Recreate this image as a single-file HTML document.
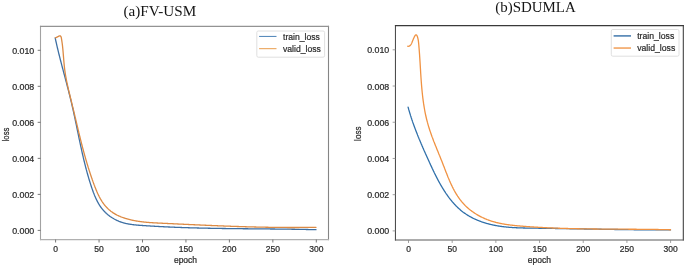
<!DOCTYPE html>
<html><head><meta charset="utf-8"><style>
html,body{margin:0;padding:0;background:#fff;}
body{width:685px;height:267px;overflow:hidden;}
svg{display:block;font-family:"Liberation Sans", sans-serif;will-change:transform;filter:blur(0.3px);}
.t{fill:#2a2a2a;stroke:#2a2a2a;stroke-width:0.22px;}
</style></head><body>
<svg width="685" height="267" viewBox="0 0 685 267">
<rect width="685" height="267" fill="#fff"/>
<polyline points="55.19,37.90 55.30,38.39 55.40,38.87 55.50,39.35 55.61,39.83 55.71,40.31 55.82,40.79 55.92,41.27 56.03,41.76 56.14,42.24 56.24,42.72 56.35,43.20 56.46,43.68 56.57,44.16 56.68,44.64 56.79,45.13 56.90,45.61 57.02,46.09 57.13,46.57 57.24,47.05 57.35,47.53 57.47,48.01 57.58,48.49 57.70,48.98 57.81,49.46 57.93,49.94 58.04,50.42 58.16,50.90 58.28,51.38 58.39,51.86 58.51,52.34 58.63,52.82 58.75,53.30 58.87,53.79 58.99,54.27 59.11,54.75 59.23,55.23 59.35,55.71 59.47,56.19 59.59,56.67 59.71,57.15 59.83,57.63 59.96,58.11 60.08,58.60 60.20,59.08 60.32,59.56 60.45,60.04 60.57,60.52 60.69,61.00 60.82,61.48 60.94,61.96 61.07,62.44 61.19,62.92 61.32,63.41 61.44,63.89 61.57,64.37 61.69,64.85 61.82,65.33 61.95,65.81 62.07,66.29 62.20,66.77 62.32,67.25 62.45,67.73 62.58,68.22 62.70,68.70 62.83,69.18 62.96,69.66 63.09,70.14 63.21,70.62 63.34,71.10 63.47,71.58 63.60,72.06 63.72,72.55 63.85,73.03 63.98,73.51 64.11,73.99 64.23,74.47 64.36,74.95 64.49,75.43 64.62,75.91 64.74,76.39 64.87,76.88 65.00,77.36 65.13,77.84 65.25,78.32 65.38,78.80 65.51,79.28 65.64,79.76 65.76,80.25 65.89,80.73 66.02,81.21 66.15,81.69 66.27,82.17 66.40,82.65 66.53,83.14 66.65,83.62 66.78,84.10 66.90,84.58 67.03,85.06 67.16,85.54 67.28,86.03 67.41,86.51 67.53,86.99 67.66,87.47 67.78,87.95 67.91,88.44 68.03,88.92 68.16,89.40 68.28,89.88 68.40,90.36 68.53,90.85 68.65,91.33 68.77,91.81 68.90,92.29 69.02,92.77 69.14,93.26 69.26,93.74 69.38,94.22 69.50,94.70 69.62,95.19 69.74,95.67 69.86,96.15 69.98,96.63 70.10,97.12 70.22,97.60 70.34,98.08 70.46,98.57 70.57,99.05 70.69,99.53 70.81,100.01 70.92,100.50 71.04,100.98 71.16,101.46 71.27,101.95 71.38,102.43 71.50,102.91 71.61,103.40 71.73,103.88 71.84,104.36 71.95,104.85 72.06,105.33 72.17,105.81 72.28,106.30 72.39,106.78 72.50,107.27 72.61,107.75 72.72,108.23 72.83,108.72 72.94,109.20 73.05,109.69 73.15,110.17 73.26,110.65 73.37,111.14 73.48,111.62 73.58,112.11 73.69,112.59 73.79,113.07 73.90,113.56 74.00,114.04 74.11,114.53 74.21,115.01 74.32,115.50 74.42,115.98 74.52,116.47 74.63,116.95 74.73,117.43 74.83,117.92 74.94,118.40 75.04,118.89 75.14,119.37 75.24,119.86 75.35,120.34 75.45,120.83 75.55,121.31 75.65,121.80 75.75,122.28 75.85,122.76 75.96,123.25 76.06,123.73 76.16,124.22 76.26,124.70 76.36,125.19 76.46,125.67 76.56,126.16 76.66,126.64 76.76,127.13 76.86,127.61 76.96,128.10 77.06,128.58 77.16,129.07 77.26,129.55 77.36,130.04 77.46,130.52 77.56,131.01 77.66,131.49 77.76,131.98 77.86,132.46 77.96,132.95 78.06,133.43 78.16,133.92 78.26,134.40 78.36,134.88 78.47,135.37 78.57,135.85 78.67,136.34 78.77,136.82 78.87,137.31 78.97,137.79 79.07,138.28 79.17,138.76 79.27,139.25 79.38,139.73 79.48,140.22 79.58,140.70 79.68,141.18 79.78,141.67 79.89,142.15 79.99,142.64 80.09,143.12 80.20,143.61 80.30,144.09 80.40,144.58 80.51,145.06 80.61,145.54 80.72,146.03 80.82,146.51 80.93,147.00 81.03,147.48 81.14,147.97 81.24,148.45 81.35,148.93 81.46,149.42 81.56,149.90 81.67,150.39 81.78,150.87 81.89,151.35 82.00,151.84 82.10,152.32 82.21,152.80 82.32,153.29 82.43,153.77 82.54,154.26 82.65,154.74 82.77,155.22 82.88,155.71 82.99,156.19 83.10,156.67 83.21,157.16 83.33,157.64 83.44,158.12 83.56,158.60 83.67,159.09 83.79,159.57 83.90,160.05 84.02,160.54 84.14,161.02 84.25,161.50 84.37,161.98 84.49,162.47 84.61,162.95 84.73,163.43 84.85,163.91 84.97,164.40 85.09,164.88 85.22,165.36 85.34,165.84 85.46,166.32 85.59,166.81 85.71,167.29 85.84,167.77 85.96,168.25 86.09,168.73 86.22,169.21 86.34,169.70 86.47,170.18 86.60,170.66 86.73,171.14 86.86,171.62 87.00,172.10 87.13,172.58 87.26,173.06 87.39,173.54 87.53,174.03 87.66,174.51 87.80,174.99 87.94,175.47 88.08,175.95 88.21,176.43 88.35,176.91 88.49,177.39 88.63,177.87 88.78,178.35 88.92,178.83 89.06,179.31 89.21,179.79 89.35,180.27 89.50,180.75 89.65,181.22 89.79,181.70 89.94,182.18 90.09,182.66 90.24,183.14 90.39,183.62 90.55,184.10 90.70,184.58 90.85,185.05 91.01,185.53 91.17,186.01 91.32,186.49 91.48,186.97 91.64,187.44 91.80,187.92 91.97,188.40 92.13,188.87 92.30,189.35 92.46,189.82 92.63,190.30 92.80,190.77 92.97,191.24 93.15,191.71 93.32,192.19 93.50,192.66 93.68,193.13 93.86,193.59 94.05,194.06 94.23,194.53 94.42,194.99 94.61,195.46 94.81,195.92 95.00,196.38 95.20,196.84 95.40,197.30 95.60,197.76 95.81,198.22 96.02,198.67 96.23,199.13 96.44,199.58 96.66,200.03 96.88,200.47 97.10,200.92 97.33,201.36 97.56,201.80 97.79,202.24 98.03,202.68 98.27,203.11 98.52,203.54 98.77,203.97 99.02,204.39 99.28,204.81 99.54,205.23 99.80,205.64 100.07,206.05 100.35,206.46 100.63,206.86 100.91,207.26 101.20,207.65 101.49,208.04 101.79,208.43 102.09,208.81 102.40,209.19 102.71,209.56 103.02,209.93 103.34,210.30 103.66,210.66 103.99,211.02 104.32,211.37 104.66,211.72 105.00,212.07 105.34,212.41 105.69,212.74 106.04,213.08 106.39,213.41 106.75,213.73 107.11,214.05 107.48,214.36 107.85,214.67 108.22,214.98 108.60,215.28 108.98,215.58 109.37,215.87 109.75,216.16 110.14,216.45 110.54,216.73 110.94,217.00 111.34,217.27 111.74,217.54 112.15,217.80 112.56,218.06 112.97,218.31 113.39,218.56 113.81,218.80 114.23,219.04 114.66,219.27 115.09,219.50 115.52,219.72 115.96,219.94 116.39,220.16 116.83,220.36 117.28,220.57 117.72,220.77 118.17,220.96 118.62,221.15 119.07,221.34 119.53,221.52 119.99,221.69 120.45,221.86 120.91,222.03 121.38,222.19 121.84,222.34 122.31,222.49 122.79,222.63 123.26,222.77 123.74,222.91 124.21,223.04 124.69,223.16 125.18,223.28 125.66,223.40 126.14,223.51 126.63,223.62 127.12,223.72 127.61,223.82 128.10,223.91 128.60,224.01 129.09,224.09 129.59,224.18 130.08,224.26 130.58,224.34 131.08,224.41 131.58,224.48 132.08,224.55 132.58,224.62 133.08,224.68 133.59,224.74 134.09,224.80 134.60,224.86 135.10,224.91 135.61,224.96 136.11,225.01 136.62,225.06 137.13,225.10 137.63,225.15 138.14,225.19 138.65,225.23 139.15,225.27 139.66,225.31 140.17,225.35 140.68,225.38 141.18,225.42 141.69,225.45 142.20,225.49 142.70,225.52 143.21,225.55 143.71,225.59 144.21,225.62 144.72,225.65 145.22,225.68 145.72,225.72 146.22,225.75 146.72,225.78 147.22,225.81 147.72,225.84 148.22,225.87 148.72,225.90 149.22,225.94 149.72,225.97 150.22,226.00 150.71,226.03 151.21,226.06 151.71,226.09 152.20,226.12 152.70,226.15 153.19,226.17 153.69,226.20 154.18,226.23 154.68,226.26 155.17,226.29 155.67,226.32 156.16,226.35 156.66,226.37 157.15,226.40 157.64,226.43 158.14,226.46 158.63,226.48 159.12,226.51 159.62,226.54 160.11,226.56 160.60,226.59 161.09,226.61 161.59,226.64 162.08,226.67 162.57,226.69 163.07,226.72 163.56,226.74 164.05,226.77 164.55,226.79 165.04,226.81 165.53,226.84 166.03,226.86 166.52,226.89 167.01,226.91 167.51,226.93 168.00,226.95 168.50,226.98 168.99,227.00 169.48,227.02 169.98,227.04 170.47,227.07 170.96,227.09 171.46,227.11 171.95,227.13 172.45,227.15 172.94,227.17 173.44,227.19 173.93,227.21 174.42,227.23 174.92,227.26 175.41,227.28 175.91,227.29 176.40,227.31 176.90,227.33 177.39,227.35 177.89,227.37 178.38,227.39 178.88,227.41 179.37,227.43 179.87,227.45 180.36,227.46 180.86,227.48 181.35,227.50 181.85,227.52 182.34,227.54 182.84,227.55 183.33,227.57 183.83,227.59 184.32,227.60 184.82,227.62 185.31,227.64 185.81,227.65 186.30,227.67 186.80,227.69 187.29,227.70 187.79,227.72 188.29,227.73 188.78,227.75 189.28,227.76 189.77,227.78 190.27,227.79 190.76,227.81 191.26,227.82 191.76,227.84 192.25,227.85 192.75,227.87 193.24,227.88 193.74,227.89 194.24,227.91 194.73,227.92 195.23,227.93 195.72,227.95 196.22,227.96 196.72,227.97 197.21,227.99 197.71,228.00 198.21,228.01 198.70,228.02 199.20,228.04 199.69,228.05 200.19,228.06 200.69,228.07 201.18,228.08 201.68,228.10 202.18,228.11 202.67,228.12 203.17,228.13 203.67,228.14 204.16,228.15 204.66,228.16 205.16,228.17 205.65,228.18 206.15,228.19 206.65,228.20 207.15,228.21 207.64,228.22 208.14,228.24 208.64,228.24 209.13,228.25 209.63,228.26 210.13,228.27 210.62,228.28 211.12,228.29 211.62,228.30 212.12,228.31 212.61,228.32 213.11,228.33 213.61,228.34 214.10,228.35 214.60,228.36 215.10,228.36 215.60,228.37 216.09,228.38 216.59,228.39 217.09,228.40 217.59,228.41 218.08,228.41 218.58,228.42 219.08,228.43 219.58,228.44 220.07,228.45 220.57,228.45 221.07,228.46 221.57,228.47 222.06,228.48 222.56,228.48 223.06,228.49 223.56,228.50 224.05,228.50 224.55,228.51 225.05,228.52 225.55,228.52 226.04,228.53 226.54,228.54 227.04,228.54 227.54,228.55 228.03,228.56 228.53,228.56 229.03,228.57 229.53,228.58 230.03,228.58 230.52,228.59 231.02,228.59 231.52,228.60 232.02,228.61 232.51,228.61 233.01,228.62 233.51,228.62 234.01,228.63 234.51,228.64 235.00,228.64 235.50,228.65 236.00,228.65 236.50,228.66 237.00,228.66 237.49,228.67 237.99,228.67 238.49,228.68 238.99,228.68 239.48,228.69 239.98,228.69 240.48,228.70 240.98,228.71 241.48,228.71 241.97,228.72 242.47,228.72 242.97,228.73 243.47,228.73 243.97,228.73 244.46,228.74 244.96,228.74 245.46,228.75 245.96,228.75 246.46,228.76 246.95,228.76 247.45,228.77 247.95,228.77 248.45,228.78 248.95,228.78 249.44,228.79 249.94,228.79 250.44,228.80 250.94,228.80 251.43,228.81 251.93,228.81 252.43,228.81 252.93,228.82 253.43,228.82 253.92,228.83 254.42,228.83 254.92,228.84 255.42,228.84 255.92,228.85 256.41,228.85 256.91,228.85 257.41,228.86 257.91,228.86 258.40,228.87 258.90,228.87 259.40,228.88 259.90,228.88 260.40,228.89 260.89,228.89 261.39,228.89 261.89,228.90 262.39,228.90 262.88,228.91 263.38,228.91 263.88,228.92 264.38,228.92 264.88,228.93 265.37,228.93 265.87,228.94 266.37,228.94 266.87,228.95 267.36,228.95 267.86,228.95 268.36,228.96 268.86,228.96 269.35,228.97 269.85,228.97 270.35,228.98 270.85,228.98 271.34,228.99 271.84,228.99 272.34,229.00 272.84,229.00 273.33,229.01 273.83,229.01 274.33,229.02 274.83,229.02 275.32,229.03 275.82,229.03 276.32,229.04 276.81,229.04 277.31,229.05 277.81,229.06 278.31,229.06 278.80,229.07 279.30,229.07 279.80,229.08 280.30,229.08 280.79,229.09 281.29,229.09 281.79,229.10 282.28,229.11 282.78,229.11 283.28,229.12 283.77,229.12 284.27,229.13 284.77,229.14 285.26,229.14 285.76,229.15 286.26,229.16 286.75,229.16 287.25,229.17 287.75,229.17 288.24,229.18 288.74,229.19 289.24,229.19 289.73,229.20 290.23,229.21 290.73,229.22 291.22,229.22 291.72,229.23 292.22,229.24 292.71,229.24 293.21,229.25 293.71,229.26 294.20,229.27 294.70,229.27 295.20,229.28 295.69,229.29 296.19,229.30 296.68,229.31 297.18,229.31 297.68,229.32 298.17,229.33 298.67,229.34 299.16,229.35 299.66,229.36 300.16,229.36 300.65,229.37 301.15,229.38 301.64,229.39 302.14,229.40 302.63,229.41 303.13,229.42 303.63,229.43 304.12,229.44 304.62,229.45 305.11,229.46 305.61,229.47 306.10,229.48 306.60,229.49 307.09,229.50 307.59,229.51 308.08,229.52 308.58,229.53 309.07,229.54 309.57,229.55 310.06,229.56 310.56,229.57 311.05,229.58 311.55,229.59 312.04,229.60 312.54,229.62 313.03,229.63 313.53,229.64 314.02,229.65 314.52,229.66 315.01,229.68 315.51,229.69 316.00,229.70" fill="none" stroke="#3d6fa3" stroke-width="1.3" stroke-linejoin="round" stroke-linecap="round"/>
<polyline points="55.50,37.80 57.50,36.80 59.40,35.80 60.40,35.90 61.20,37.20 61.29,37.68 61.38,38.16 61.46,38.65 61.55,39.13 61.63,39.61 61.71,40.10 61.79,40.58 61.86,41.07 61.93,41.55 62.00,42.04 62.07,42.52 62.14,43.01 62.21,43.49 62.27,43.98 62.33,44.46 62.39,44.95 62.45,45.43 62.50,45.92 62.56,46.40 62.61,46.89 62.66,47.38 62.71,47.86 62.76,48.35 62.81,48.84 62.86,49.32 62.91,49.81 62.95,50.30 62.99,50.78 63.04,51.27 63.08,51.76 63.12,52.24 63.16,52.73 63.21,53.22 63.25,53.70 63.29,54.19 63.32,54.68 63.36,55.17 63.40,55.65 63.44,56.14 63.48,56.63 63.52,57.11 63.56,57.60 63.60,58.09 63.64,58.57 63.68,59.06 63.71,59.55 63.75,60.04 63.79,60.52 63.84,61.01 63.88,61.50 63.92,61.98 63.96,62.47 64.01,62.95 64.05,63.44 64.10,63.93 64.14,64.41 64.19,64.90 64.24,65.38 64.29,65.87 64.34,66.35 64.39,66.84 64.44,67.33 64.50,67.81 64.55,68.29 64.61,68.78 64.67,69.26 64.73,69.75 64.80,70.23 64.86,70.72 64.93,71.20 65.00,71.68 65.07,72.17 65.14,72.65 65.21,73.13 65.29,73.62 65.36,74.10 65.44,74.58 65.52,75.06 65.60,75.54 65.69,76.03 65.77,76.51 65.86,76.99 65.94,77.47 66.03,77.95 66.12,78.43 66.21,78.91 66.30,79.39 66.40,79.87 66.49,80.36 66.59,80.84 66.68,81.32 66.78,81.80 66.88,82.28 66.98,82.76 67.08,83.23 67.18,83.71 67.29,84.19 67.39,84.67 67.49,85.15 67.60,85.63 67.71,86.11 67.81,86.59 67.92,87.07 68.03,87.54 68.14,88.02 68.25,88.50 68.36,88.98 68.47,89.46 68.58,89.94 68.70,90.41 68.81,90.89 68.92,91.37 69.04,91.85 69.15,92.32 69.27,92.80 69.38,93.28 69.50,93.76 69.61,94.23 69.73,94.71 69.85,95.19 69.96,95.66 70.08,96.14 70.20,96.62 70.31,97.09 70.43,97.57 70.55,98.05 70.67,98.52 70.78,99.00 70.90,99.48 71.02,99.95 71.13,100.43 71.25,100.91 71.37,101.38 71.49,101.86 71.60,102.33 71.72,102.81 71.84,103.29 71.95,103.76 72.07,104.24 72.18,104.71 72.30,105.19 72.41,105.67 72.53,106.14 72.64,106.62 72.76,107.09 72.87,107.57 72.99,108.04 73.10,108.52 73.22,109.00 73.33,109.47 73.44,109.95 73.56,110.42 73.67,110.90 73.78,111.37 73.90,111.85 74.01,112.32 74.12,112.80 74.24,113.27 74.35,113.75 74.46,114.22 74.58,114.70 74.69,115.18 74.80,115.65 74.91,116.13 75.03,116.60 75.14,117.07 75.25,117.55 75.36,118.02 75.48,118.50 75.59,118.97 75.70,119.45 75.81,119.92 75.93,120.40 76.04,120.87 76.15,121.35 76.26,121.82 76.37,122.30 76.49,122.77 76.60,123.24 76.71,123.72 76.82,124.19 76.94,124.67 77.05,125.14 77.16,125.62 77.28,126.09 77.39,126.56 77.50,127.04 77.61,127.51 77.73,127.98 77.84,128.46 77.95,128.93 78.07,129.41 78.18,129.88 78.30,130.35 78.41,130.83 78.52,131.30 78.64,131.77 78.75,132.25 78.87,132.72 78.98,133.19 79.10,133.67 79.21,134.14 79.33,134.61 79.44,135.09 79.56,135.56 79.68,136.03 79.79,136.50 79.91,136.98 80.03,137.45 80.14,137.92 80.26,138.40 80.38,138.87 80.50,139.34 80.61,139.81 80.73,140.29 80.85,140.76 80.97,141.23 81.09,141.70 81.21,142.17 81.33,142.65 81.45,143.12 81.57,143.59 81.69,144.06 81.81,144.53 81.93,145.01 82.05,145.48 82.18,145.95 82.30,146.42 82.42,146.89 82.54,147.36 82.67,147.84 82.79,148.31 82.92,148.78 83.04,149.25 83.17,149.72 83.29,150.19 83.42,150.66 83.54,151.13 83.67,151.61 83.80,152.08 83.93,152.55 84.05,153.02 84.18,153.49 84.31,153.96 84.44,154.43 84.57,154.90 84.70,155.37 84.83,155.84 84.96,156.31 85.10,156.78 85.23,157.25 85.36,157.72 85.50,158.19 85.63,158.66 85.76,159.13 85.90,159.60 86.04,160.07 86.17,160.54 86.31,161.01 86.45,161.48 86.58,161.95 86.72,162.42 86.86,162.89 87.00,163.36 87.14,163.83 87.28,164.30 87.42,164.76 87.57,165.23 87.71,165.70 87.85,166.17 88.00,166.64 88.14,167.11 88.29,167.58 88.43,168.05 88.58,168.51 88.73,168.98 88.88,169.45 89.02,169.92 89.17,170.39 89.32,170.86 89.48,171.32 89.63,171.79 89.78,172.26 89.93,172.73 90.09,173.20 90.24,173.66 90.40,174.13 90.55,174.60 90.71,175.07 90.87,175.53 91.02,176.00 91.18,176.47 91.34,176.93 91.50,177.40 91.66,177.87 91.83,178.33 91.99,178.80 92.15,179.27 92.32,179.73 92.48,180.20 92.65,180.67 92.82,181.13 92.99,181.60 93.15,182.07 93.32,182.53 93.49,183.00 93.67,183.46 93.84,183.93 94.01,184.40 94.19,184.86 94.36,185.33 94.54,185.79 94.71,186.26 94.89,186.72 95.07,187.19 95.25,187.65 95.44,188.11 95.62,188.58 95.80,189.04 95.99,189.50 96.18,189.96 96.37,190.42 96.56,190.88 96.76,191.33 96.95,191.79 97.15,192.24 97.35,192.70 97.55,193.15 97.76,193.60 97.96,194.05 98.17,194.49 98.39,194.94 98.60,195.38 98.82,195.82 99.04,196.26 99.26,196.70 99.49,197.13 99.72,197.56 99.95,197.99 100.18,198.42 100.42,198.84 100.66,199.26 100.91,199.68 101.16,200.10 101.41,200.51 101.67,200.92 101.93,201.33 102.19,201.74 102.46,202.14 102.73,202.54 103.00,202.93 103.28,203.32 103.56,203.71 103.85,204.09 104.14,204.48 104.44,204.85 104.74,205.22 105.05,205.59 105.35,205.96 105.67,206.32 105.99,206.68 106.31,207.03 106.64,207.38 106.97,207.72 107.30,208.06 107.64,208.40 107.99,208.73 108.33,209.06 108.69,209.38 109.04,209.70 109.40,210.01 109.77,210.32 110.14,210.62 110.51,210.92 110.88,211.22 111.26,211.51 111.65,211.79 112.04,212.07 112.43,212.35 112.82,212.62 113.22,212.88 113.62,213.14 114.03,213.40 114.44,213.65 114.85,213.89 115.27,214.13 115.69,214.36 116.11,214.59 116.54,214.82 116.96,215.04 117.40,215.25 117.83,215.46 118.27,215.67 118.71,215.87 119.15,216.07 119.59,216.26 120.04,216.45 120.48,216.64 120.93,216.82 121.39,216.99 121.84,217.17 122.29,217.34 122.75,217.50 123.21,217.67 123.67,217.83 124.13,217.98 124.59,218.13 125.05,218.28 125.52,218.43 125.98,218.57 126.45,218.71 126.91,218.85 127.38,218.98 127.85,219.11 128.32,219.24 128.79,219.36 129.26,219.48 129.73,219.60 130.20,219.72 130.67,219.83 131.15,219.94 131.62,220.05 132.10,220.15 132.57,220.26 133.05,220.36 133.53,220.45 134.01,220.55 134.49,220.64 134.97,220.73 135.45,220.82 135.93,220.90 136.41,220.99 136.89,221.07 137.37,221.15 137.86,221.22 138.34,221.30 138.83,221.37 139.31,221.44 139.80,221.51 140.28,221.58 140.77,221.64 141.26,221.70 141.74,221.77 142.23,221.82 142.72,221.88 143.21,221.94 143.70,221.99 144.19,222.05 144.68,222.10 145.17,222.15 145.66,222.19 146.15,222.24 146.64,222.29 147.13,222.33 147.62,222.37 148.12,222.41 148.61,222.45 149.10,222.49 149.60,222.53 150.09,222.57 150.58,222.60 151.08,222.64 151.57,222.67 152.06,222.71 152.56,222.74 153.05,222.77 153.55,222.80 154.04,222.83 154.54,222.86 155.03,222.89 155.53,222.91 156.02,222.94 156.52,222.97 157.01,222.99 157.51,223.02 158.00,223.04 158.50,223.07 158.99,223.09 159.49,223.12 159.98,223.14 160.48,223.17 160.97,223.19 161.47,223.21 161.96,223.24 162.46,223.26 162.95,223.28 163.44,223.31 163.94,223.33 164.43,223.35 164.93,223.38 165.42,223.40 165.91,223.42 166.41,223.45 166.90,223.47 167.39,223.49 167.89,223.52 168.38,223.54 168.87,223.56 169.36,223.58 169.86,223.61 170.35,223.63 170.84,223.65 171.33,223.68 171.82,223.70 172.32,223.72 172.81,223.75 173.30,223.77 173.79,223.79 174.28,223.82 174.77,223.84 175.27,223.86 175.76,223.89 176.25,223.91 176.74,223.93 177.23,223.96 177.72,223.98 178.21,224.00 178.70,224.03 179.19,224.05 179.68,224.07 180.17,224.09 180.66,224.12 181.15,224.14 181.64,224.16 182.13,224.19 182.62,224.21 183.11,224.23 183.60,224.26 184.09,224.28 184.58,224.30 185.06,224.32 185.55,224.35 186.04,224.37 186.53,224.39 187.02,224.42 187.51,224.44 188.00,224.46 188.49,224.48 188.97,224.51 189.46,224.53 189.95,224.55 190.44,224.57 190.93,224.60 191.41,224.62 191.90,224.64 192.39,224.66 192.88,224.69 193.36,224.71 193.85,224.73 194.34,224.75 194.83,224.77 195.31,224.80 195.80,224.82 196.29,224.84 196.77,224.86 197.26,224.88 197.75,224.91 198.24,224.93 198.72,224.95 199.21,224.97 199.70,224.99 200.18,225.02 200.67,225.04 201.15,225.06 201.64,225.08 202.13,225.10 202.61,225.12 203.10,225.14 203.59,225.17 204.07,225.19 204.56,225.21 205.04,225.23 205.53,225.25 206.02,225.27 206.50,225.29 206.99,225.31 207.47,225.33 207.96,225.36 208.44,225.38 208.93,225.40 209.42,225.42 209.90,225.44 210.39,225.46 210.87,225.48 211.36,225.50 211.84,225.52 212.33,225.54 212.81,225.56 213.30,225.58 213.78,225.60 214.27,225.62 214.75,225.64 215.24,225.66 215.72,225.68 216.21,225.70 216.69,225.72 217.18,225.74 217.66,225.76 218.15,225.78 218.63,225.80 219.12,225.82 219.60,225.84 220.09,225.86 220.57,225.88 221.06,225.89 221.54,225.91 222.03,225.93 222.51,225.95 223.00,225.97 223.48,225.99 223.97,226.01 224.45,226.03 224.94,226.04 225.42,226.06 225.90,226.08 226.39,226.10 226.87,226.12 227.36,226.14 227.84,226.15 228.33,226.17 228.81,226.19 229.30,226.21 229.78,226.22 230.27,226.24 230.75,226.26 231.24,226.28 231.72,226.29 232.20,226.31 232.69,226.33 233.17,226.34 233.66,226.36 234.14,226.38 234.63,226.39 235.11,226.41 235.60,226.43 236.08,226.44 236.57,226.46 237.05,226.48 237.54,226.49 238.02,226.51 238.51,226.52 238.99,226.54 239.47,226.56 239.96,226.57 240.44,226.59 240.93,226.60 241.41,226.62 241.90,226.63 242.38,226.65 242.87,226.66 243.35,226.68 243.84,226.69 244.32,226.71 244.81,226.72 245.29,226.73 245.78,226.75 246.26,226.76 246.75,226.78 247.24,226.79 247.72,226.80 248.21,226.82 248.69,226.83 249.18,226.85 249.66,226.86 250.15,226.87 250.63,226.88 251.12,226.90 251.60,226.91 252.09,226.92 252.58,226.94 253.06,226.95 253.55,226.96 254.03,226.97 254.52,226.98 255.01,227.00 255.49,227.01 255.98,227.02 256.46,227.03 256.95,227.04 257.44,227.05 257.92,227.07 258.41,227.08 258.89,227.09 259.38,227.10 259.87,227.11 260.35,227.12 260.84,227.13 261.33,227.14 261.81,227.15 262.30,227.16 262.79,227.17 263.28,227.18 263.76,227.19 264.25,227.20 264.74,227.21 265.22,227.22 265.71,227.23 266.20,227.24 266.69,227.24 267.17,227.25 267.66,227.26 268.15,227.27 268.64,227.28 269.13,227.29 269.61,227.29 270.10,227.30 270.59,227.31 271.08,227.32 271.57,227.32 272.06,227.33 272.54,227.34 273.03,227.35 273.52,227.35 274.01,227.36 274.50,227.37 274.99,227.37 275.48,227.38 275.97,227.38 276.46,227.39 276.94,227.40 277.43,227.40 277.92,227.41 278.41,227.41 278.90,227.42 279.39,227.42 279.88,227.43 280.37,227.43 280.86,227.43 281.35,227.44 281.84,227.44 282.33,227.45 282.83,227.45 283.32,227.45 283.81,227.46 284.30,227.46 284.79,227.46 285.28,227.47 285.77,227.47 286.26,227.47 286.76,227.47 287.25,227.48 287.74,227.48 288.23,227.48 288.72,227.48 289.21,227.48 289.71,227.48 290.20,227.49 290.69,227.49 291.18,227.49 291.68,227.49 292.17,227.49 292.66,227.49 293.16,227.49 293.65,227.49 294.14,227.49 294.64,227.49 295.13,227.49 295.63,227.49 296.12,227.49 296.61,227.48 297.11,227.48 297.60,227.48 298.10,227.48 298.59,227.48 299.09,227.48 299.58,227.47 300.08,227.47 300.57,227.47 301.07,227.47 301.56,227.46 302.06,227.46 302.56,227.46 303.05,227.45 303.55,227.45 304.04,227.44 304.54,227.44 305.04,227.44 305.53,227.43 306.03,227.43 306.53,227.42 307.03,227.42 307.52,227.41 308.02,227.40 308.52,227.40 309.02,227.39 309.52,227.39 310.01,227.38 310.51,227.37 311.01,227.37 311.51,227.36 312.01,227.35 312.51,227.34 313.01,227.34 313.51,227.33 314.01,227.32 314.51,227.31 315.01,227.30 315.51,227.30 316.01,227.29" fill="none" stroke="#dc8a44" stroke-width="1.3" stroke-linejoin="round" stroke-linecap="round"/>
<line x1="40.5" y1="25.849999999999998" x2="40.5" y2="240.15" stroke="#a2a2a2" stroke-width="1.1"/>
<line x1="328.5" y1="25.849999999999998" x2="328.5" y2="240.15" stroke="#858585" stroke-width="1.1"/>
<line x1="39.95" y1="26.4" x2="329.05" y2="26.4" stroke="#939393" stroke-width="1.1"/>
<line x1="39.95" y1="239.6" x2="329.05" y2="239.6" stroke="#b0b0b0" stroke-width="1.1"/>
<line x1="37.7" y1="230.40" x2="40.5" y2="230.40" stroke="#555" stroke-width="0.8"/>
<text x="34.3" y="233.95" text-anchor="end" font-size="8.9" class="t" textLength="22.1" lengthAdjust="spacingAndGlyphs">0.000</text>
<line x1="37.7" y1="194.38" x2="40.5" y2="194.38" stroke="#555" stroke-width="0.8"/>
<text x="34.3" y="197.93" text-anchor="end" font-size="8.9" class="t" textLength="22.1" lengthAdjust="spacingAndGlyphs">0.002</text>
<line x1="37.7" y1="158.36" x2="40.5" y2="158.36" stroke="#555" stroke-width="0.8"/>
<text x="34.3" y="161.91" text-anchor="end" font-size="8.9" class="t" textLength="22.1" lengthAdjust="spacingAndGlyphs">0.004</text>
<line x1="37.7" y1="122.34" x2="40.5" y2="122.34" stroke="#555" stroke-width="0.8"/>
<text x="34.3" y="125.89" text-anchor="end" font-size="8.9" class="t" textLength="22.1" lengthAdjust="spacingAndGlyphs">0.006</text>
<line x1="37.7" y1="86.32" x2="40.5" y2="86.32" stroke="#555" stroke-width="0.8"/>
<text x="34.3" y="89.87" text-anchor="end" font-size="8.9" class="t" textLength="22.1" lengthAdjust="spacingAndGlyphs">0.008</text>
<line x1="37.7" y1="50.30" x2="40.5" y2="50.30" stroke="#555" stroke-width="0.8"/>
<text x="34.3" y="53.85" text-anchor="end" font-size="8.9" class="t" textLength="22.1" lengthAdjust="spacingAndGlyphs">0.010</text>
<line x1="55.60" y1="239.6" x2="55.60" y2="242.5" stroke="#555" stroke-width="0.8"/>
<text x="55.60" y="251.9" text-anchor="middle" font-size="8.5" class="t">0</text>
<line x1="99.05" y1="239.6" x2="99.05" y2="242.5" stroke="#555" stroke-width="0.8"/>
<text x="99.05" y="251.9" text-anchor="middle" font-size="8.5" class="t">50</text>
<line x1="142.50" y1="239.6" x2="142.50" y2="242.5" stroke="#555" stroke-width="0.8"/>
<text x="142.50" y="251.9" text-anchor="middle" font-size="8.5" class="t">100</text>
<line x1="185.95" y1="239.6" x2="185.95" y2="242.5" stroke="#555" stroke-width="0.8"/>
<text x="185.95" y="251.9" text-anchor="middle" font-size="8.5" class="t">150</text>
<line x1="229.40" y1="239.6" x2="229.40" y2="242.5" stroke="#555" stroke-width="0.8"/>
<text x="229.40" y="251.9" text-anchor="middle" font-size="8.5" class="t">200</text>
<line x1="272.85" y1="239.6" x2="272.85" y2="242.5" stroke="#555" stroke-width="0.8"/>
<text x="272.85" y="251.9" text-anchor="middle" font-size="8.5" class="t">250</text>
<line x1="316.30" y1="239.6" x2="316.30" y2="242.5" stroke="#555" stroke-width="0.8"/>
<text x="316.30" y="251.9" text-anchor="middle" font-size="8.5" class="t">300</text>
<text x="185.5" y="262.9" text-anchor="middle" font-size="8.5" class="t">epoch</text>
<text transform="translate(9.0,134.5) rotate(-90)" text-anchor="middle" font-size="9.4" class="t" textLength="13.7" lengthAdjust="spacingAndGlyphs">loss</text>
<text x="123.4" y="16.35" font-family='"Liberation Serif", serif' font-size="15.6" fill="#151515" textLength="72.8" lengthAdjust="spacingAndGlyphs">(a)FV-USM</text>
<rect x="256.8" y="31.0" width="67.80000000000001" height="26.200000000000003" rx="1.5" fill="#fff" fill-opacity="0.8" stroke="#d8d8d8" stroke-width="0.8"/>
<line x1="259.1" y1="36.45" x2="276.5" y2="36.45" stroke="#5a8cbc" stroke-width="1.1"/>
<line x1="259.1" y1="48.65" x2="276.5" y2="48.65" stroke="#eba55c" stroke-width="1.1"/>
<text x="283.0" y="40.199999999999996" font-size="8.9" class="t" textLength="36.8" lengthAdjust="spacingAndGlyphs">train_loss</text>
<text x="283.0" y="52.3" font-size="8.9" class="t" textLength="37.8" lengthAdjust="spacingAndGlyphs">valid_loss</text>
<polyline points="408.11,107.19 408.22,107.59 408.34,108.00 408.45,108.40 408.56,108.81 408.67,109.21 408.79,109.62 408.90,110.02 409.02,110.42 409.14,110.82 409.25,111.22 409.37,111.63 409.49,112.03 409.61,112.43 409.73,112.83 409.85,113.23 409.97,113.63 410.09,114.02 410.22,114.42 410.34,114.82 410.46,115.22 410.59,115.61 410.71,116.01 410.84,116.41 410.97,116.80 411.09,117.20 411.22,117.59 411.35,117.99 411.48,118.38 411.61,118.77 411.74,119.17 411.87,119.56 412.00,119.95 412.14,120.34 412.27,120.73 412.40,121.13 412.54,121.52 412.67,121.91 412.81,122.30 412.94,122.69 413.08,123.08 413.22,123.47 413.35,123.85 413.49,124.24 413.63,124.63 413.77,125.02 413.91,125.41 414.05,125.79 414.19,126.18 414.33,126.57 414.47,126.95 414.62,127.34 414.76,127.73 414.90,128.11 415.05,128.50 415.19,128.88 415.34,129.27 415.48,129.65 415.63,130.04 415.78,130.42 415.92,130.80 416.07,131.19 416.22,131.57 416.37,131.95 416.52,132.34 416.67,132.72 416.82,133.10 416.97,133.48 417.12,133.86 417.27,134.25 417.42,134.63 417.57,135.01 417.73,135.39 417.88,135.77 418.03,136.15 418.19,136.53 418.34,136.91 418.49,137.29 418.65,137.67 418.81,138.05 418.96,138.43 419.12,138.81 419.27,139.19 419.43,139.57 419.59,139.95 419.75,140.33 419.91,140.71 420.06,141.08 420.22,141.46 420.38,141.84 420.54,142.22 420.70,142.60 420.86,142.98 421.02,143.35 421.18,143.73 421.35,144.11 421.51,144.49 421.67,144.86 421.83,145.24 421.99,145.62 422.16,146.00 422.32,146.37 422.48,146.75 422.65,147.13 422.81,147.51 422.98,147.88 423.14,148.26 423.31,148.64 423.47,149.01 423.64,149.39 423.80,149.77 423.97,150.14 424.13,150.52 424.30,150.90 424.47,151.27 424.63,151.65 424.80,152.03 424.97,152.41 425.14,152.78 425.31,153.16 425.47,153.54 425.64,153.91 425.81,154.29 425.98,154.67 426.15,155.04 426.32,155.42 426.49,155.80 426.66,156.17 426.83,156.55 427.00,156.93 427.17,157.31 427.34,157.68 427.51,158.06 427.68,158.44 427.85,158.82 428.02,159.19 428.19,159.57 428.36,159.95 428.53,160.33 428.70,160.70 428.88,161.08 429.05,161.46 429.22,161.84 429.39,162.22 429.56,162.60 429.74,162.97 429.91,163.35 430.08,163.73 430.26,164.11 430.43,164.49 430.60,164.87 430.78,165.24 430.95,165.62 431.13,166.00 431.30,166.38 431.48,166.76 431.65,167.13 431.83,167.51 432.01,167.89 432.18,168.27 432.36,168.64 432.54,169.02 432.72,169.40 432.90,169.78 433.07,170.15 433.25,170.53 433.43,170.91 433.61,171.28 433.80,171.66 433.98,172.03 434.16,172.41 434.34,172.79 434.53,173.16 434.71,173.54 434.89,173.91 435.08,174.28 435.26,174.66 435.45,175.03 435.64,175.41 435.82,175.78 436.01,176.15 436.20,176.52 436.39,176.90 436.58,177.27 436.77,177.64 436.96,178.01 437.16,178.38 437.35,178.75 437.54,179.12 437.74,179.49 437.93,179.86 438.13,180.23 438.32,180.59 438.52,180.96 438.72,181.33 438.92,181.70 439.12,182.06 439.32,182.43 439.52,182.79 439.72,183.16 439.93,183.52 440.13,183.88 440.34,184.25 440.54,184.61 440.75,184.97 440.96,185.33 441.17,185.69 441.38,186.05 441.59,186.41 441.80,186.77 442.02,187.13 442.23,187.49 442.44,187.84 442.66,188.20 442.88,188.55 443.10,188.91 443.32,189.26 443.54,189.62 443.76,189.97 443.98,190.32 444.20,190.67 444.43,191.02 444.66,191.37 444.88,191.72 445.11,192.07 445.34,192.42 445.57,192.76 445.80,193.11 446.04,193.45 446.27,193.80 446.51,194.14 446.74,194.48 446.98,194.82 447.22,195.16 447.46,195.50 447.70,195.84 447.95,196.18 448.19,196.51 448.44,196.85 448.69,197.18 448.93,197.52 449.18,197.85 449.44,198.18 449.69,198.51 449.94,198.84 450.20,199.16 450.45,199.49 450.71,199.81 450.97,200.14 451.23,200.46 451.49,200.78 451.76,201.10 452.02,201.42 452.29,201.73 452.56,202.05 452.83,202.36 453.10,202.67 453.37,202.98 453.64,203.29 453.92,203.60 454.19,203.90 454.47,204.20 454.75,204.51 455.03,204.81 455.31,205.10 455.60,205.40 455.88,205.70 456.17,205.99 456.46,206.28 456.75,206.57 457.04,206.86 457.33,207.14 457.63,207.43 457.92,207.71 458.22,207.99 458.52,208.27 458.82,208.54 459.12,208.82 459.43,209.09 459.73,209.36 460.04,209.62 460.35,209.89 460.66,210.15 460.97,210.41 461.29,210.67 461.60,210.93 461.92,211.18 462.24,211.43 462.56,211.68 462.88,211.93 463.21,212.17 463.53,212.42 463.86,212.66 464.19,212.89 464.52,213.13 464.85,213.36 465.18,213.59 465.52,213.82 465.85,214.05 466.19,214.27 466.53,214.50 466.87,214.72 467.22,214.93 467.56,215.15 467.90,215.36 468.25,215.57 468.60,215.78 468.95,215.99 469.30,216.19 469.65,216.39 470.01,216.59 470.36,216.79 470.72,216.99 471.08,217.18 471.44,217.37 471.80,217.56 472.16,217.75 472.52,217.93 472.88,218.12 473.25,218.30 473.62,218.48 473.98,218.65 474.35,218.83 474.72,219.00 475.09,219.17 475.46,219.34 475.84,219.51 476.21,219.67 476.59,219.83 476.96,220.00 477.34,220.15 477.72,220.31 478.10,220.47 478.48,220.62 478.86,220.77 479.24,220.92 479.63,221.07 480.01,221.21 480.40,221.35 480.78,221.50 481.17,221.64 481.56,221.77 481.95,221.91 482.34,222.04 482.73,222.18 483.12,222.31 483.51,222.43 483.90,222.56 484.30,222.69 484.69,222.81 485.08,222.93 485.48,223.05 485.88,223.17 486.27,223.28 486.67,223.40 487.07,223.51 487.47,223.62 487.87,223.73 488.27,223.84 488.67,223.94 489.07,224.05 489.47,224.15 489.87,224.25 490.28,224.35 490.68,224.45 491.09,224.54 491.49,224.64 491.89,224.73 492.30,224.82 492.71,224.91 493.11,225.00 493.52,225.08 493.93,225.17 494.33,225.25 494.74,225.33 495.15,225.41 495.56,225.49 495.97,225.57 496.37,225.64 496.78,225.71 497.19,225.79 497.60,225.86 498.01,225.93 498.42,225.99 498.83,226.06 499.24,226.12 499.65,226.19 500.07,226.25 500.48,226.31 500.89,226.37 501.30,226.43 501.71,226.48 502.12,226.54 502.54,226.59 502.95,226.64 503.36,226.69 503.77,226.74 504.18,226.79 504.60,226.84 505.01,226.89 505.42,226.93 505.84,226.97 506.25,227.02 506.66,227.06 507.08,227.10 507.49,227.14 507.90,227.18 508.32,227.21 508.73,227.25 509.15,227.28 509.56,227.32 509.98,227.35 510.39,227.38 510.80,227.41 511.22,227.44 511.63,227.47 512.05,227.50 512.46,227.53 512.88,227.55 513.29,227.58 513.71,227.60 514.12,227.63 514.54,227.65 514.96,227.67 515.37,227.69 515.79,227.72 516.20,227.74 516.62,227.75 517.03,227.77 517.45,227.79 517.87,227.81 518.28,227.83 518.70,227.84 519.11,227.86 519.53,227.87 519.95,227.89 520.36,227.90 520.78,227.91 521.20,227.93 521.61,227.94 522.03,227.95 522.44,227.96 522.86,227.97 523.28,227.98 523.69,227.99 524.11,228.00 524.53,228.01 524.94,228.02 525.36,228.03 525.78,228.04 526.19,228.04 526.61,228.05 527.03,228.06 527.44,228.07 527.86,228.07 528.27,228.08 528.69,228.09 529.11,228.09 529.52,228.10 529.94,228.11 530.36,228.11 530.77,228.12 531.19,228.12 531.60,228.13 532.02,228.13 532.44,228.14 532.85,228.15 533.27,228.15 533.68,228.16 534.10,228.16 534.52,228.17 534.93,228.17 535.35,228.18 535.76,228.18 536.18,228.19 536.59,228.20 537.01,228.20 537.42,228.21 537.84,228.21 538.25,228.22 538.67,228.23 539.08,228.23 539.50,228.24 539.91,228.24 540.33,228.25 540.74,228.26 541.16,228.26 541.57,228.27 541.99,228.27 542.40,228.28 542.82,228.29 543.23,228.29 543.65,228.30 544.06,228.30 544.47,228.31 544.89,228.32 545.30,228.32 545.72,228.33 546.13,228.34 546.55,228.34 546.96,228.35 547.37,228.36 547.79,228.36 548.20,228.37 548.61,228.37 549.03,228.38 549.44,228.39 549.86,228.39 550.27,228.40 550.68,228.41 551.10,228.41 551.51,228.42 551.92,228.43 552.34,228.43 552.75,228.44 553.16,228.45 553.58,228.45 553.99,228.46 554.40,228.47 554.82,228.47 555.23,228.48 555.64,228.49 556.06,228.49 556.47,228.50 556.88,228.51 557.30,228.52 557.71,228.52 558.12,228.53 558.53,228.54 558.95,228.54 559.36,228.55 559.77,228.56 560.19,228.56 560.60,228.57 561.01,228.58 561.42,228.58 561.84,228.59 562.25,228.60 562.66,228.61 563.07,228.61 563.49,228.62 563.90,228.63 564.31,228.63 564.72,228.64 565.14,228.65 565.55,228.65 565.96,228.66 566.37,228.67 566.78,228.68 567.20,228.68 567.61,228.69 568.02,228.70 568.43,228.70 568.85,228.71 569.26,228.72 569.67,228.73 570.08,228.73 570.49,228.74 570.91,228.75 571.32,228.75 571.73,228.76 572.14,228.77 572.55,228.78 572.97,228.78 573.38,228.79 573.79,228.80 574.20,228.80 574.61,228.81 575.02,228.82 575.44,228.83 575.85,228.83 576.26,228.84 576.67,228.85 577.08,228.85 577.49,228.86 577.91,228.87 578.32,228.88 578.73,228.88 579.14,228.89 579.55,228.90 579.96,228.91 580.38,228.91 580.79,228.92 581.20,228.93 581.61,228.93 582.02,228.94 582.43,228.95 582.84,228.96 583.26,228.96 583.67,228.97 584.08,228.98 584.49,228.98 584.90,228.99 585.31,229.00 585.72,229.01 586.14,229.01 586.55,229.02 586.96,229.03 587.37,229.03 587.78,229.04 588.19,229.05 588.60,229.06 589.02,229.06 589.43,229.07 589.84,229.08 590.25,229.08 590.66,229.09 591.07,229.10 591.48,229.11 591.89,229.11 592.31,229.12 592.72,229.13 593.13,229.13 593.54,229.14 593.95,229.15 594.36,229.15 594.77,229.16 595.19,229.17 595.60,229.18 596.01,229.18 596.42,229.19 596.83,229.20 597.24,229.20 597.65,229.21 598.06,229.22 598.48,229.22 598.89,229.23 599.30,229.24 599.71,229.24 600.12,229.25 600.53,229.26 600.94,229.26 601.36,229.27 601.77,229.28 602.18,229.28 602.59,229.29 603.00,229.30 603.41,229.30 603.82,229.31 604.24,229.32 604.65,229.32 605.06,229.33 605.47,229.34 605.88,229.34 606.29,229.35 606.71,229.36 607.12,229.36 607.53,229.37 607.94,229.38 608.35,229.38 608.76,229.39 609.17,229.40 609.59,229.40 610.00,229.41 610.41,229.41 610.82,229.42 611.23,229.43 611.64,229.43 612.06,229.44 612.47,229.45 612.88,229.45 613.29,229.46 613.70,229.46 614.12,229.47 614.53,229.48 614.94,229.48 615.35,229.49 615.76,229.49 616.18,229.50 616.59,229.51 617.00,229.51 617.41,229.52 617.82,229.52 618.24,229.53 618.65,229.54 619.06,229.54 619.47,229.55 619.88,229.55 620.30,229.56 620.71,229.56 621.12,229.57 621.53,229.58 621.95,229.58 622.36,229.59 622.77,229.59 623.18,229.60 623.60,229.60 624.01,229.61 624.42,229.61 624.83,229.62 625.25,229.63 625.66,229.63 626.07,229.64 626.48,229.64 626.90,229.65 627.31,229.65 627.72,229.66 628.13,229.66 628.55,229.67 628.96,229.67 629.37,229.68 629.79,229.68 630.20,229.69 630.61,229.69 631.03,229.70 631.44,229.70 631.85,229.71 632.26,229.71 632.68,229.72 633.09,229.72 633.50,229.72 633.92,229.73 634.33,229.73 634.74,229.74 635.16,229.74 635.57,229.75 635.99,229.75 636.40,229.76 636.81,229.76 637.23,229.76 637.64,229.77 638.05,229.77 638.47,229.78 638.88,229.78 639.30,229.78 639.71,229.79 640.12,229.79 640.54,229.80 640.95,229.80 641.37,229.80 641.78,229.81 642.19,229.81 642.61,229.82 643.02,229.82 643.44,229.82 643.85,229.83 644.27,229.83 644.68,229.83 645.10,229.84 645.51,229.84 645.93,229.84 646.34,229.85 646.75,229.85 647.17,229.85 647.58,229.86 648.00,229.86 648.41,229.86 648.83,229.87 649.25,229.87 649.66,229.87 650.08,229.87 650.49,229.88 650.91,229.88 651.32,229.88 651.74,229.89 652.15,229.89 652.57,229.89 652.98,229.89 653.40,229.90 653.82,229.90 654.23,229.90 654.65,229.90 655.06,229.91 655.48,229.91 655.90,229.91 656.31,229.91 656.73,229.91 657.15,229.92 657.56,229.92 657.98,229.92 658.39,229.92 658.81,229.92 659.23,229.92 659.64,229.93 660.06,229.93 660.48,229.93 660.90,229.93 661.31,229.93 661.73,229.93 662.15,229.93 662.56,229.94 662.98,229.94 663.40,229.94 663.82,229.94 664.23,229.94 664.65,229.94 665.07,229.94 665.49,229.94 665.90,229.94 666.32,229.94 666.74,229.95 667.16,229.95 667.58,229.95 667.99,229.95 668.41,229.95 668.83,229.95 669.25,229.95 669.67,229.95 670.09,229.95 670.51,229.95" fill="none" stroke="#3070aa" stroke-width="1.3" stroke-linejoin="round" stroke-linecap="round"/>
<polyline points="407.79,46.27 408.32,46.28 408.79,46.21 409.23,46.08 409.62,45.89 409.98,45.64 410.31,45.34 410.61,44.99 410.89,44.60 411.15,44.17 411.40,43.70 411.64,43.21 411.87,42.69 412.09,42.15 412.32,41.59 412.55,41.03 412.78,40.45 413.01,39.88 413.24,39.31 413.47,38.75 413.71,38.20 413.94,37.68 414.17,37.19 414.39,36.72 414.62,36.30 414.85,35.91 415.07,35.58 415.29,35.30 415.50,35.08 415.72,34.92 415.92,34.84 416.13,34.82 416.33,34.89 416.52,35.04 416.71,35.24 416.89,35.52 417.07,35.84 417.23,36.21 417.39,36.62 417.54,37.07 417.69,37.54 417.82,38.04 417.94,38.54 418.05,39.06 418.15,39.58 418.24,40.11 418.32,40.65 418.40,41.19 418.47,41.74 418.53,42.28 418.59,42.83 418.65,43.39 418.70,43.94 418.75,44.49 418.80,45.04 418.85,45.58 418.89,46.13 418.94,46.67 418.98,47.21 419.03,47.74 419.07,48.28 419.12,48.81 419.16,49.34 419.20,49.87 419.24,50.40 419.28,50.93 419.32,51.45 419.36,51.97 419.40,52.49 419.44,53.01 419.47,53.53 419.51,54.05 419.55,54.56 419.58,55.08 419.62,55.59 419.65,56.10 419.68,56.61 419.72,57.12 419.75,57.63 419.78,58.13 419.82,58.64 419.85,59.15 419.88,59.65 419.91,60.15 419.95,60.66 419.98,61.16 420.01,61.66 420.04,62.16 420.07,62.66 420.10,63.16 420.13,63.66 420.16,64.16 420.19,64.66 420.22,65.16 420.25,65.66 420.28,66.16 420.31,66.66 420.34,67.16 420.37,67.66 420.40,68.16 420.43,68.66 420.46,69.16 420.49,69.66 420.52,70.16 420.55,70.66 420.58,71.16 420.61,71.66 420.64,72.17 420.67,72.67 420.70,73.17 420.73,73.68 420.77,74.18 420.80,74.69 420.83,75.19 420.86,75.70 420.90,76.20 420.93,76.71 420.96,77.21 421.00,77.72 421.03,78.23 421.07,78.73 421.10,79.24 421.14,79.75 421.17,80.26 421.21,80.76 421.25,81.27 421.28,81.78 421.32,82.29 421.36,82.80 421.40,83.31 421.44,83.82 421.48,84.32 421.52,84.83 421.56,85.34 421.61,85.85 421.65,86.36 421.69,86.87 421.74,87.38 421.78,87.89 421.83,88.40 421.87,88.91 421.92,89.42 421.97,89.93 422.02,90.44 422.07,90.95 422.12,91.46 422.17,91.97 422.22,92.48 422.27,93.00 422.33,93.51 422.38,94.02 422.44,94.53 422.49,95.04 422.55,95.55 422.61,96.06 422.67,96.57 422.73,97.08 422.79,97.58 422.85,98.09 422.92,98.60 422.98,99.11 423.05,99.62 423.11,100.13 423.18,100.64 423.25,101.15 423.32,101.66 423.39,102.16 423.46,102.67 423.54,103.18 423.61,103.69 423.69,104.19 423.76,104.70 423.84,105.21 423.92,105.71 424.00,106.22 424.08,106.72 424.17,107.23 424.25,107.73 424.34,108.24 424.43,108.74 424.52,109.25 424.61,109.75 424.70,110.25 424.79,110.76 424.89,111.26 424.98,111.76 425.08,112.26 425.18,112.76 425.28,113.26 425.38,113.76 425.49,114.26 425.59,114.76 425.70,115.26 425.81,115.76 425.92,116.26 426.03,116.75 426.14,117.25 426.26,117.75 426.38,118.24 426.49,118.74 426.61,119.23 426.74,119.73 426.86,120.22 426.99,120.71 427.11,121.20 427.24,121.69 427.37,122.19 427.51,122.68 427.64,123.16 427.78,123.65 427.91,124.14 428.05,124.63 428.20,125.12 428.34,125.60 428.48,126.09 428.63,126.57 428.78,127.06 428.93,127.54 429.08,128.03 429.23,128.51 429.39,128.99 429.54,129.47 429.70,129.95 429.86,130.44 430.02,130.92 430.18,131.40 430.34,131.88 430.51,132.36 430.67,132.83 430.84,133.31 431.01,133.79 431.18,134.27 431.35,134.75 431.52,135.22 431.69,135.70 431.86,136.18 432.04,136.65 432.21,137.13 432.39,137.60 432.57,138.08 432.75,138.56 432.93,139.03 433.11,139.50 433.29,139.98 433.47,140.45 433.65,140.93 433.84,141.40 434.02,141.88 434.21,142.35 434.39,142.82 434.58,143.30 434.76,143.77 434.95,144.24 435.14,144.72 435.33,145.19 435.52,145.66 435.71,146.13 435.90,146.61 436.09,147.08 436.28,147.55 436.47,148.03 436.66,148.50 436.85,148.97 437.05,149.44 437.24,149.92 437.43,150.39 437.62,150.86 437.82,151.34 438.01,151.81 438.20,152.28 438.40,152.76 438.59,153.23 438.78,153.71 438.98,154.18 439.17,154.65 439.36,155.13 439.56,155.60 439.75,156.08 439.94,156.55 440.13,157.03 440.33,157.51 440.52,157.98 440.71,158.46 440.90,158.93 441.09,159.41 441.29,159.89 441.48,160.37 441.67,160.85 441.86,161.32 442.05,161.80 442.24,162.28 442.42,162.76 442.61,163.24 442.80,163.72 442.99,164.20 443.17,164.68 443.36,165.16 443.55,165.65 443.73,166.13 443.92,166.61 444.11,167.09 444.29,167.57 444.48,168.05 444.66,168.54 444.85,169.02 445.03,169.50 445.22,169.98 445.41,170.46 445.59,170.94 445.78,171.43 445.97,171.91 446.16,172.39 446.34,172.87 446.53,173.35 446.72,173.83 446.91,174.31 447.10,174.79 447.29,175.26 447.49,175.74 447.68,176.22 447.87,176.70 448.07,177.17 448.26,177.65 448.46,178.12 448.65,178.60 448.85,179.07 449.05,179.54 449.25,180.01 449.45,180.49 449.66,180.96 449.86,181.42 450.07,181.89 450.28,182.36 450.48,182.83 450.69,183.29 450.91,183.75 451.12,184.22 451.33,184.68 451.55,185.14 451.77,185.60 451.99,186.06 452.21,186.51 452.43,186.97 452.66,187.42 452.89,187.87 453.11,188.33 453.35,188.77 453.58,189.22 453.82,189.67 454.05,190.11 454.29,190.56 454.54,191.00 454.78,191.44 455.03,191.88 455.28,192.31 455.53,192.75 455.78,193.18 456.04,193.61 456.30,194.04 456.56,194.47 456.83,194.89 457.10,195.32 457.37,195.74 457.64,196.16 457.92,196.57 458.19,196.99 458.48,197.40 458.76,197.81 459.05,198.22 459.34,198.62 459.64,199.03 459.93,199.43 460.24,199.83 460.54,200.22 460.85,200.62 461.16,201.01 461.47,201.40 461.79,201.78 462.11,202.17 462.44,202.55 462.77,202.93 463.10,203.30 463.44,203.68 463.78,204.05 464.12,204.41 464.47,204.78 464.82,205.14 465.17,205.50 465.53,205.86 465.90,206.21 466.26,206.56 466.64,206.91 467.01,207.25 467.39,207.59 467.77,207.93 468.15,208.26 468.54,208.60 468.93,208.93 469.33,209.25 469.73,209.57 470.13,209.89 470.53,210.21 470.94,210.52 471.35,210.83 471.76,211.14 472.18,211.45 472.60,211.75 473.02,212.04 473.45,212.34 473.87,212.63 474.30,212.92 474.74,213.20 475.17,213.48 475.61,213.76 476.05,214.03 476.49,214.31 476.93,214.57 477.38,214.84 477.83,215.10 478.28,215.36 478.73,215.61 479.18,215.86 479.64,216.11 480.10,216.35 480.56,216.59 481.02,216.83 481.48,217.06 481.95,217.29 482.41,217.52 482.88,217.74 483.35,217.96 483.82,218.17 484.29,218.38 484.76,218.59 485.24,218.80 485.71,219.00 486.19,219.19 486.67,219.39 487.14,219.58 487.62,219.76 488.10,219.94 488.58,220.12 489.07,220.30 489.55,220.47 490.03,220.63 490.51,220.80 491.00,220.96 491.48,221.12 491.97,221.27 492.46,221.42 492.94,221.57 493.43,221.71 493.92,221.85 494.41,221.99 494.90,222.12 495.39,222.25 495.88,222.38 496.38,222.51 496.87,222.63 497.36,222.75 497.86,222.87 498.35,222.98 498.84,223.09 499.34,223.20 499.84,223.31 500.33,223.41 500.83,223.51 501.33,223.61 501.83,223.71 502.32,223.80 502.82,223.89 503.32,223.98 503.82,224.07 504.32,224.15 504.83,224.24 505.33,224.32 505.83,224.40 506.33,224.47 506.83,224.55 507.34,224.62 507.84,224.69 508.34,224.76 508.85,224.83 509.35,224.90 509.86,224.96 510.36,225.03 510.87,225.09 511.37,225.15 511.88,225.21 512.38,225.27 512.89,225.32 513.40,225.38 513.90,225.43 514.41,225.48 514.92,225.54 515.42,225.59 515.93,225.64 516.44,225.69 516.95,225.73 517.45,225.78 517.96,225.83 518.47,225.87 518.98,225.92 519.49,225.96 519.99,226.00 520.50,226.05 521.01,226.09 521.52,226.13 522.03,226.17 522.54,226.21 523.05,226.25 523.55,226.29 524.06,226.33 524.57,226.37 525.08,226.41 525.59,226.45 526.10,226.49 526.61,226.53 527.12,226.56 527.62,226.60 528.13,226.64 528.64,226.67 529.15,226.71 529.66,226.75 530.17,226.78 530.68,226.82 531.19,226.85 531.70,226.88 532.20,226.92 532.71,226.95 533.22,226.99 533.73,227.02 534.24,227.05 534.75,227.08 535.26,227.11 535.77,227.15 536.28,227.18 536.79,227.21 537.30,227.24 537.81,227.27 538.32,227.30 538.83,227.33 539.33,227.36 539.84,227.38 540.35,227.41 540.86,227.44 541.37,227.47 541.88,227.50 542.39,227.52 542.90,227.55 543.41,227.58 543.92,227.60 544.43,227.63 544.94,227.65 545.45,227.68 545.96,227.70 546.47,227.73 546.98,227.75 547.49,227.78 548.00,227.80 548.51,227.82 549.02,227.85 549.53,227.87 550.04,227.89 550.55,227.92 551.06,227.94 551.57,227.96 552.08,227.98 552.59,228.00 553.10,228.02 553.61,228.04 554.12,228.06 554.63,228.08 555.14,228.10 555.65,228.12 556.16,228.14 556.67,228.16 557.18,228.18 557.69,228.20 558.20,228.22 558.71,228.24 559.22,228.25 559.73,228.27 560.24,228.29 560.75,228.30 561.26,228.32 561.77,228.34 562.28,228.35 562.79,228.37 563.30,228.39 563.81,228.40 564.32,228.42 564.83,228.43 565.34,228.45 565.85,228.46 566.36,228.48 566.87,228.49 567.38,228.51 567.89,228.52 568.40,228.53 568.91,228.55 569.42,228.56 569.93,228.57 570.44,228.59 570.95,228.60 571.47,228.61 571.98,228.62 572.49,228.63 573.00,228.65 573.51,228.66 574.02,228.67 574.53,228.68 575.04,228.69 575.55,228.70 576.06,228.71 576.57,228.72 577.08,228.73 577.59,228.74 578.10,228.75 578.61,228.76 579.12,228.77 579.63,228.78 580.14,228.79 580.66,228.80 581.17,228.81 581.68,228.82 582.19,228.83 582.70,228.84 583.21,228.84 583.72,228.85 584.23,228.86 584.74,228.87 585.25,228.88 585.76,228.88 586.27,228.89 586.78,228.90 587.29,228.91 587.81,228.91 588.32,228.92 588.83,228.93 589.34,228.93 589.85,228.94 590.36,228.95 590.87,228.95 591.38,228.96 591.89,228.97 592.40,228.97 592.91,228.98 593.42,228.98 593.93,228.99 594.45,228.99 594.96,229.00 595.47,229.01 595.98,229.01 596.49,229.02 597.00,229.02 597.51,229.03 598.02,229.03 598.53,229.03 599.04,229.04 599.55,229.04 600.06,229.05 600.58,229.05 601.09,229.06 601.60,229.06 602.11,229.07 602.62,229.07 603.13,229.07 603.64,229.08 604.15,229.08 604.66,229.09 605.17,229.09 605.68,229.09 606.19,229.10 606.71,229.10 607.22,229.10 607.73,229.11 608.24,229.11 608.75,229.11 609.26,229.12 609.77,229.12 610.28,229.12 610.79,229.13 611.30,229.13 611.81,229.13 612.32,229.14 612.84,229.14 613.35,229.14 613.86,229.14 614.37,229.15 614.88,229.15 615.39,229.15 615.90,229.16 616.41,229.16 616.92,229.16 617.43,229.16 617.94,229.17 618.45,229.17 618.96,229.17 619.48,229.18 619.99,229.18 620.50,229.18 621.01,229.18 621.52,229.19 622.03,229.19 622.54,229.19 623.05,229.19 623.56,229.20 624.07,229.20 624.58,229.20 625.09,229.21 625.60,229.21 626.11,229.21 626.63,229.21 627.14,229.22 627.65,229.22 628.16,229.22 628.67,229.23 629.18,229.23 629.69,229.23 630.20,229.23 630.71,229.24 631.22,229.24 631.73,229.24 632.24,229.25 632.75,229.25 633.26,229.25 633.77,229.26 634.28,229.26 634.79,229.26 635.30,229.27 635.82,229.27 636.33,229.27 636.84,229.28 637.35,229.28 637.86,229.29 638.37,229.29 638.88,229.29 639.39,229.30 639.90,229.30 640.41,229.31 640.92,229.31 641.43,229.32 641.94,229.32 642.45,229.32 642.96,229.33 643.47,229.33 643.98,229.34 644.49,229.34 645.00,229.35 645.51,229.35 646.02,229.36 646.53,229.36 647.04,229.37 647.55,229.37 648.06,229.38 648.57,229.39 649.08,229.39 649.59,229.40 650.10,229.40 650.61,229.41 651.12,229.42 651.63,229.42 652.14,229.43 652.65,229.44 653.16,229.44 653.67,229.45 654.18,229.46 654.69,229.46 655.20,229.47 655.71,229.48 656.22,229.49 656.73,229.49 657.24,229.50 657.75,229.51 658.26,229.52 658.77,229.53 659.28,229.53 659.79,229.54 660.30,229.55 660.81,229.56 661.32,229.57 661.83,229.58 662.34,229.59 662.85,229.60 663.36,229.61 663.87,229.62 664.38,229.63 664.89,229.64 665.40,229.65 665.91,229.66 666.42,229.67 666.93,229.68 667.44,229.69 667.95,229.70 668.46,229.72 668.97,229.73 669.47,229.74 669.98,229.75 670.49,229.76" fill="none" stroke="#f09242" stroke-width="1.3" stroke-linejoin="round" stroke-linecap="round"/>
<line x1="395.45" y1="25.075000000000003" x2="395.45" y2="240.57500000000002" stroke="#4a4a4a" stroke-width="1.05"/>
<line x1="683.3" y1="25.075000000000003" x2="683.3" y2="240.57500000000002" stroke="#3a3a3a" stroke-width="1.05"/>
<line x1="394.925" y1="25.6" x2="683.8249999999999" y2="25.6" stroke="#3a3a3a" stroke-width="1.05"/>
<line x1="394.925" y1="240.05" x2="683.8249999999999" y2="240.05" stroke="#5a5a5a" stroke-width="1.05"/>
<line x1="392.65" y1="230.90" x2="395.45" y2="230.90" stroke="#888" stroke-width="0.8"/>
<text x="389.25" y="234.45" text-anchor="end" font-size="8.9" class="t" textLength="22.1" lengthAdjust="spacingAndGlyphs">0.000</text>
<line x1="392.65" y1="194.68" x2="395.45" y2="194.68" stroke="#888" stroke-width="0.8"/>
<text x="389.25" y="198.23" text-anchor="end" font-size="8.9" class="t" textLength="22.1" lengthAdjust="spacingAndGlyphs">0.002</text>
<line x1="392.65" y1="158.46" x2="395.45" y2="158.46" stroke="#888" stroke-width="0.8"/>
<text x="389.25" y="162.01" text-anchor="end" font-size="8.9" class="t" textLength="22.1" lengthAdjust="spacingAndGlyphs">0.004</text>
<line x1="392.65" y1="122.24" x2="395.45" y2="122.24" stroke="#888" stroke-width="0.8"/>
<text x="389.25" y="125.79" text-anchor="end" font-size="8.9" class="t" textLength="22.1" lengthAdjust="spacingAndGlyphs">0.006</text>
<line x1="392.65" y1="86.02" x2="395.45" y2="86.02" stroke="#888" stroke-width="0.8"/>
<text x="389.25" y="89.57" text-anchor="end" font-size="8.9" class="t" textLength="22.1" lengthAdjust="spacingAndGlyphs">0.008</text>
<line x1="392.65" y1="49.80" x2="395.45" y2="49.80" stroke="#888" stroke-width="0.8"/>
<text x="389.25" y="53.35" text-anchor="end" font-size="8.9" class="t" textLength="22.1" lengthAdjust="spacingAndGlyphs">0.010</text>
<line x1="408.50" y1="240.05" x2="408.50" y2="242.95000000000002" stroke="#888" stroke-width="0.8"/>
<text x="408.50" y="251.9" text-anchor="middle" font-size="8.5" class="t">0</text>
<line x1="452.18" y1="240.05" x2="452.18" y2="242.95000000000002" stroke="#888" stroke-width="0.8"/>
<text x="452.18" y="251.9" text-anchor="middle" font-size="8.5" class="t">50</text>
<line x1="495.87" y1="240.05" x2="495.87" y2="242.95000000000002" stroke="#888" stroke-width="0.8"/>
<text x="495.87" y="251.9" text-anchor="middle" font-size="8.5" class="t">100</text>
<line x1="539.55" y1="240.05" x2="539.55" y2="242.95000000000002" stroke="#888" stroke-width="0.8"/>
<text x="539.55" y="251.9" text-anchor="middle" font-size="8.5" class="t">150</text>
<line x1="583.23" y1="240.05" x2="583.23" y2="242.95000000000002" stroke="#888" stroke-width="0.8"/>
<text x="583.23" y="251.9" text-anchor="middle" font-size="8.5" class="t">200</text>
<line x1="626.92" y1="240.05" x2="626.92" y2="242.95000000000002" stroke="#888" stroke-width="0.8"/>
<text x="626.92" y="251.9" text-anchor="middle" font-size="8.5" class="t">250</text>
<line x1="670.60" y1="240.05" x2="670.60" y2="242.95000000000002" stroke="#888" stroke-width="0.8"/>
<text x="670.60" y="251.9" text-anchor="middle" font-size="8.5" class="t">300</text>
<text x="539.4" y="262.9" text-anchor="middle" font-size="8.5" class="t">epoch</text>
<text transform="translate(361.3,133.7) rotate(-90)" text-anchor="middle" font-size="9.4" class="t" textLength="14.4" lengthAdjust="spacingAndGlyphs">loss</text>
<text x="495.2" y="12.4" font-family='"Liberation Serif", serif' font-size="15.6" fill="#151515" textLength="80.6" lengthAdjust="spacingAndGlyphs">(b)SDUMLA</text>
<rect x="611.3" y="29.5" width="67.70000000000005" height="26.700000000000003" rx="1.5" fill="#fff" fill-opacity="0.8" stroke="#d8d8d8" stroke-width="0.8"/>
<line x1="613.5999999999999" y1="35.9" x2="631.0" y2="35.9" stroke="#4d80b2" stroke-width="1.6"/>
<line x1="613.5999999999999" y1="48.05" x2="631.0" y2="48.05" stroke="#f2a562" stroke-width="1.6"/>
<text x="637.2" y="38.699999999999996" font-size="8.9" class="t" textLength="37.1" lengthAdjust="spacingAndGlyphs">train_loss</text>
<text x="637.2" y="50.8" font-size="8.9" class="t" textLength="38.1" lengthAdjust="spacingAndGlyphs">valid_loss</text>
</svg>
</body></html>
